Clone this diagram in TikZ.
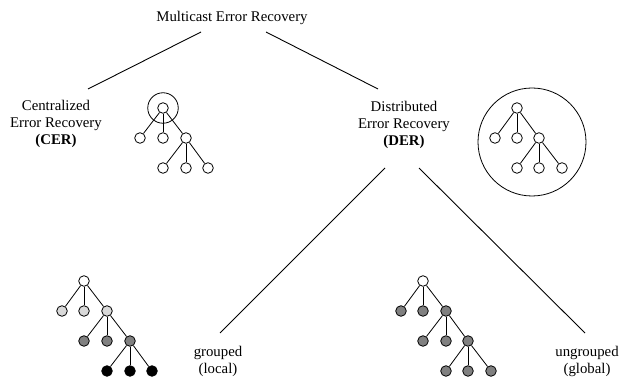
\documentclass[tikz,border=0pt]{standalone}
\usepackage{fontspec}
\setmainfont{Liberation Serif}
\begin{document}
\begin{tikzpicture}[x=1pt,y=-1pt,
  nd/.style={circle,draw,line width=0.8pt,inner sep=0pt,minimum size=10.6pt},
  wn/.style={nd,fill=white},
  ln/.style={nd,fill=black!15},
  mn/.style={nd,fill=black!50},
  bn/.style={nd,fill=black},
  ed/.style={line width=0.8pt},
  conn/.style={line width=0.9pt},
  lbl/.style={font=\fontsize{14.8}{17}\selectfont,align=center,inner sep=0pt}]
\useasboundingbox (0,0) rectangle (621,379);
% labels
\node[lbl] (title) at (232,18) {Multicast Error Recovery};
\node[lbl] (cer) at (56,124) {Centralized\\Error Recovery\\\textbf{(CER)}};
\node[lbl] (der) at (404,125) {Distributed\\Error Recovery\\\textbf{(DER)}};
\node[lbl] (grp) at (218,361) {grouped\\(local)};
\node[lbl] (ugrp) at (587,361) {ungrouped\\(global)};
% connector end coordinates
\coordinate (t1) at (201,32);
\coordinate (t2) at (266,32);
\coordinate (c1) at (88,89);
\coordinate (d1) at (378,89);
\coordinate (d2) at (385,168);
\coordinate (d3) at (419,168);
\coordinate (g1) at (220,333);
\coordinate (u1) at (585,333);
\draw[conn] (t1) -- (c1);
\draw[conn] (t2) -- (d1);
\draw[conn] (d2) -- (g1);
\draw[conn] (d3) -- (u1);
% CER tree
\node[wn] (a0) at (163,108) {};
\node[circle,draw,line width=0.8pt,minimum size=30.5pt,inner sep=0pt] (aring) at (163,108) {};
\node[wn] (a1) at (140,138) {};
\node[wn] (a2) at (163,138) {};
\node[wn] (a3) at (186,138) {};
\node[wn] (a4) at (163,168) {};
\node[wn] (a5) at (186,168) {};
\node[wn] (a6) at (208,168) {};
\foreach \c in {a1,a2,a3} \draw[ed] (a0) -- (\c);
\foreach \c in {a4,a5,a6} \draw[ed] (a3) -- (\c);
% DER tree
\node[circle,draw,line width=0.8pt,minimum size=108pt,inner sep=0pt] (bring) at (532,142) {};
\node[wn] (b0) at (517,108) {};
\node[wn] (b1) at (495,138) {};
\node[wn] (b2) at (517,138) {};
\node[wn] (b3) at (539,138) {};
\node[wn] (b4) at (517,168) {};
\node[wn] (b5) at (539,168) {};
\node[wn] (b6) at (562,168) {};
\foreach \c in {b1,b2,b3} \draw[ed] (b0) -- (\c);
\foreach \c in {b4,b5,b6} \draw[ed] (b3) -- (\c);
% grouped tree
\node[wn] (g0) at (84,281) {};
\node[ln] (g11) at (62,311) {};
\node[ln] (g12) at (84,311) {};
\node[ln] (g13) at (107,311) {};
\node[mn] (g21) at (84,341) {};
\node[mn] (g22) at (107,341) {};
\node[mn] (g23) at (130,341) {};
\node[bn] (g31) at (107,371) {};
\node[bn] (g32) at (130,371) {};
\node[bn] (g33) at (152,371) {};
\foreach \c in {g11,g12,g13} \draw[ed] (g0) -- (\c);
\foreach \c in {g21,g22,g23} \draw[ed] (g13) -- (\c);
\foreach \c in {g31,g32,g33} \draw[ed] (g23) -- (\c);
% ungrouped tree
\node[wn] (u0) at (423,281) {};
\node[mn] (u11) at (401,311) {};
\node[mn] (u12) at (423,311) {};
\node[mn] (u13) at (446,311) {};
\node[mn] (u21) at (423,341) {};
\node[mn] (u22) at (446,341) {};
\node[mn] (u23) at (468,341) {};
\node[mn] (u31) at (446,371) {};
\node[mn] (u32) at (468,371) {};
\node[mn] (u33) at (491,371) {};
\foreach \c in {u11,u12,u13} \draw[ed] (u0) -- (\c);
\foreach \c in {u21,u22,u23} \draw[ed] (u13) -- (\c);
\foreach \c in {u31,u32,u33} \draw[ed] (u23) -- (\c);
\end{tikzpicture}
\end{document}
